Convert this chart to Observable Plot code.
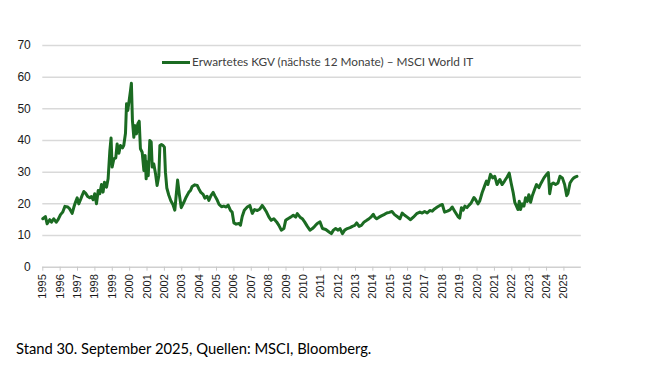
<!DOCTYPE html>
<html>
<head>
<meta charset="utf-8">
<script src="https://cdn.jsdelivr.net/npm/d3@7"></script>
<script src="https://cdn.jsdelivr.net/npm/@observablehq/plot@0.6"></script>
<style>
  html, body { margin: 0; padding: 0; background: #ffffff; }
  #wrap { position: relative; width: 646px; height: 388px; overflow: hidden; }
  #legend-line { position: absolute; left: 162px; top: 61px; width: 28px; height: 3px; background: #1b6b22; }
  #legend-text { position: absolute; left: 192px; top: 55.5px; font-family: Lato, "Open Sans", sans-serif; font-size: 11.8px; line-height: 11.8px; color: #404040; white-space: nowrap; }
  #caption { position: absolute; left: 16px; top: 341px; font-family: Lato, "Open Sans", sans-serif; font-size: 14.75px; line-height: 14px; color: #000; white-space: nowrap; }
</style>
</head>
<body>
<div id="wrap">
  <div id="chart"></div>
  <div id="legend-line"></div>
  <div id="legend-text">Erwartetes KGV (nächste 12 Monate) – MSCI World IT</div>
  <div id="caption">Stand 30. September 2025, Quellen: MSCI, Bloomberg.</div>
</div>
<script>
// Decimal year of each reading
const years = [
  1995.00,1995.15,1995.25,1995.40,1995.50,1995.63,1995.77,1995.88,
  1996.02,1996.15,1996.27,1996.44,1996.55,1996.69,1996.79,1996.88,1996.98,
  1997.07,1997.17,1997.26,1997.36,1997.46,1997.59,1997.70,1997.80,1997.90,1997.99,
  1998.09,1998.19,1998.28,1998.38,1998.47,1998.55,1998.67,1998.76,1998.86,1998.93,1998.99,
  1999.09,1999.20,1999.28,1999.38,1999.47,1999.59,1999.66,1999.76,1999.82,1999.89,1999.97,
  2000.05,2000.10,2000.16,2000.24,2000.32,2000.39,2000.47,2000.55,2000.62,2000.72,2000.82,2000.89,2000.95,
  2001.00,2001.07,2001.16,2001.24,2001.30,2001.39,2001.49,2001.58,2001.68,2001.74,2001.83,2001.93,
  2002.00,2002.06,2002.14,2002.25,2002.37,2002.49,2002.60,2002.68,2002.76,2002.86,2002.97,
  2003.12,2003.25,2003.41,2003.50,2003.60,2003.75,2003.89,2003.98,
  2004.10,2004.23,2004.33,2004.46,2004.56,2004.68,2004.81,2004.90,
  2005.04,2005.15,2005.29,2005.42,2005.56,2005.67,2005.81,2005.90,
  2006.00,2006.13,2006.29,2006.38,2006.48,2006.60,2006.77,2006.92,
  2007.06,2007.19,2007.35,2007.50,2007.63,2007.77,2007.88,
  2008.02,2008.15,2008.30,2008.46,2008.59,2008.73,2008.88,2008.98,
  2009.11,2009.27,2009.42,2009.56,2009.65,2009.81,2009.94,
  2010.07,2010.23,2010.38,2010.52,2010.65,2010.80,2010.96,
  2011.10,2011.29,2011.48,2011.61,2011.73,2011.86,
  2012.00,2012.11,2012.25,2012.38,2012.53,2012.69,2012.82,2012.96,
  2013.07,2013.21,2013.34,2013.50,2013.65,2013.78,2013.92,
  2014.03,2014.11,2014.22,2014.36,2014.49,2014.64,2014.80,2014.95,
  2015.10,2015.25,2015.40,2015.56,2015.69,2015.83,2015.98,
  2016.17,2016.33,2016.52,2016.71,2016.84,2016.98,
  2017.13,2017.28,2017.42,2017.55,2017.71,2017.86,
  2018.00,2018.13,2018.29,2018.44,2018.57,2018.71,2018.90,
  2019.00,2019.10,2019.20,2019.30,2019.42,2019.54,2019.66,2019.82,2019.91,
  2020.05,2020.16,2020.29,2020.43,2020.54,2020.62,2020.77,2020.90,
  2021.02,2021.15,2021.31,2021.44,2021.58,2021.73,2021.85,2021.96,
  2022.08,2022.17,2022.27,2022.35,2022.43,2022.50,2022.60,2022.70,2022.79,2022.89,2022.98,
  2023.08,2023.17,2023.31,2023.42,2023.56,2023.69,2023.85,
  2024.00,2024.10,2024.18,2024.27,2024.39,2024.52,2024.66,2024.77,2024.91,
  2025.04,2025.16,2025.23,2025.35,2025.48,2025.57,2025.67,2025.75
];
// Expected P/E (next 12 months) – MSCI World IT
const kgv = [
  15.3,16.0,13.7,15.0,14.2,15.3,14.2,15.0,
  16.6,17.4,19.2,19.0,18.4,17.0,19.0,20.5,21.9,
  20.0,21.3,22.6,23.9,23.4,22.3,21.9,22.3,21.3,23.2,
  20.0,24.2,23.2,26.1,23.7,26.8,25.3,27.9,36.8,40.8,31.6,
  34.2,34.5,38.9,36.0,38.4,37.7,38.4,42.3,51.6,49.5,52.6,
  55.8,58.1,46.3,41.0,44.7,42.1,45.3,46.1,37.4,36.3,30.5,35.3,27.9,
  33.2,28.9,40.0,39.5,31.6,32.6,29.5,25.8,28.9,38.4,38.7,38.4,
  37.9,30.0,25.0,22.8,21.0,19.8,18.0,22.8,27.5,23.0,18.8,
  20.5,22.1,23.7,24.2,25.5,26.0,25.8,24.8,
  23.6,23.0,21.8,22.4,21.1,22.6,23.6,22.6,
  21.2,19.8,19.1,19.3,19.0,19.6,17.9,17.4,
  14.0,13.6,13.8,13.3,16.0,18.0,19.0,19.5,
  17.0,18.2,17.9,18.4,19.5,18.4,17.4,
  15.8,14.8,15.3,14.3,13.2,11.7,12.2,14.8,
  15.3,15.8,16.4,15.8,16.9,15.8,15.3,
  14.3,12.9,11.7,12.2,12.9,13.8,14.3,
  12.2,11.9,11.1,10.6,11.7,12.2,
  11.7,12.2,10.6,11.7,12.2,12.5,12.9,13.2,
  14.0,12.9,13.2,14.3,14.8,15.3,16.0,
  16.7,15.8,15.3,15.8,16.2,16.6,17.1,17.3,
  17.6,16.6,16.0,15.3,17.1,16.4,15.8,
  15.0,15.8,16.9,17.4,17.1,17.6,
  17.1,17.9,17.7,18.4,19.0,19.5,
  19.8,17.4,17.7,18.1,19.0,17.7,16.0,
  15.5,18.8,18.0,19.3,18.8,19.6,20.3,22.0,21.4,
  20.0,21.0,23.5,25.6,27.2,26.1,29.3,28.2,
  28.7,26.1,27.7,26.1,27.2,28.5,29.7,26.6,
  23.5,20.5,19.3,18.2,20.8,18.2,20.0,19.3,21.9,20.8,22.9,
  20.5,22.4,24.5,26.1,25.1,26.6,28.2,
  29.3,29.9,23.2,26.1,26.6,26.1,26.6,28.7,28.2,
  26.1,22.6,23.3,26.6,27.7,28.2,28.5,28.7
];
const yearTicks = d3.range(1995, 2026);
const yTicks = [0, 10, 20, 30, 40, 50, 60, 70];

const data = years.map((t, i) => ({t, v: kgv[i]}));

const chart = Plot.plot({
  width: 646,
  height: 320,
  marginLeft: 42.3,
  marginRight: 65.2,
  marginTop: 45,
  marginBottom: 53.3,
  style: {fontFamily: "'Liberation Sans', Arial, sans-serif", fontSize: "12px", color: "#1a1a1a", background: "transparent"},
  x: {domain: [1995, 2026], label: null},
  y: {domain: [0, 70], label: null},
  marks: [
    Plot.gridY(yTicks.filter(d => d > 0), {stroke: "#d9d9d9", strokeOpacity: 1, strokeWidth: 1.5}),
    Plot.ruleY([0], {stroke: "#d0d0d0", strokeWidth: 1.5}),
    Plot.axisY(yTicks, {tickSize: 0, tickPadding: 12, fontSize: 12, fill: "#1a1a1a", label: null}),
    Plot.axisX(yearTicks, {tickSize: 4, tickPadding: 3, tickRotate: -90, tickFormat: d => String(d), stroke: "#c8c8c8", fill: "#1a1a1a", fontSize: 11, label: null}),
    Plot.lineY(data, {x: "t", y: "v", stroke: "#1b6b22", strokeWidth: 3, strokeLinejoin: "round"})
  ]
});
document.getElementById("chart").appendChild(chart);
</script>
</body>
</html>
